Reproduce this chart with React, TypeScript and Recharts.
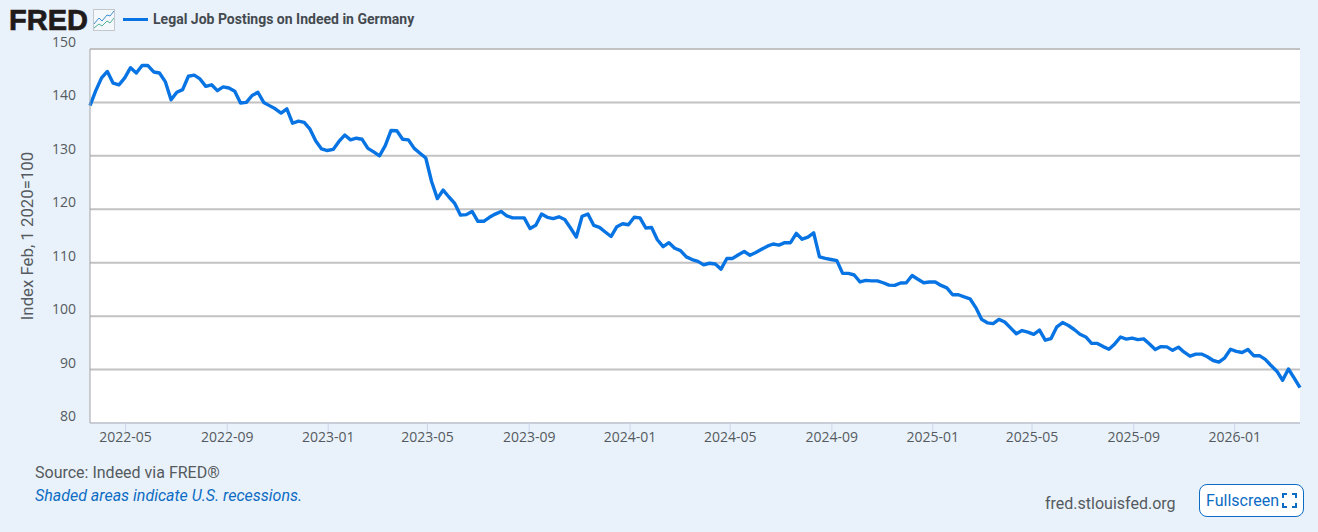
import { LineChart, Line, XAxis, YAxis, CartesianGrid } from 'recharts'

const DAY = 86400000
const startDate = Date.UTC(2022, 2, 19)

// weekly readings, first one is 2022-03-19
const values = [
  139.4, 142.2, 144.6, 145.8, 143.6, 143.3, 144.6, 146.5, 145.5, 146.9,
  146.9, 145.7, 145.5, 143.9, 140.5, 141.9, 142.4, 144.9, 145.1, 144.4,
  143.0, 143.3, 142.2, 142.9, 142.7, 142.1, 139.9, 140.0, 141.3, 141.9,
  140.0, 139.4, 138.8, 138.0, 138.8, 136.1, 136.5, 136.25, 135.0, 132.8,
  131.3, 131.0, 131.2, 132.7, 133.9, 133.0, 133.3, 133.1, 131.4, 130.75,
  130.0, 131.9, 134.75, 134.7, 133.1, 133.0, 131.4, 130.5, 129.6, 125.2,
  122.0, 123.6, 122.3, 121.1, 118.9, 119.0, 119.6, 117.75, 117.75, 118.5,
  119.1, 119.6, 118.75, 118.4, 118.4, 118.4, 116.4, 117.0, 119.1, 118.5,
  118.25, 118.6, 118.1, 116.5, 114.8, 118.7, 119.1, 117.0, 116.6, 115.75,
  114.9, 116.75, 117.3, 117.1, 118.5, 118.4, 116.5, 116.6, 114.3, 113.0,
  113.75, 112.7, 112.25, 111.1, 110.6, 110.25, 109.6, 109.9, 109.75, 108.8,
  110.8, 110.8, 111.5, 112.1, 111.4, 111.9, 112.5, 113.1, 113.5, 113.3,
  113.75, 113.75, 115.5, 114.4, 114.8, 115.6, 111.1, 110.8, 110.6, 110.4,
  108.0, 108.0, 107.7, 106.4, 106.7, 106.6, 106.6, 106.25, 105.8, 105.75,
  106.2, 106.25, 107.6, 106.9, 106.25, 106.4, 106.4, 105.75, 105.3, 104.0,
  104.0, 103.6, 103.25, 101.6, 99.4, 98.75, 98.6, 99.4, 98.9, 97.8,
  96.7, 97.3, 97.0, 96.6, 97.4, 95.5, 95.8, 98.0, 98.8, 98.25,
  97.5, 96.6, 96.1, 94.9, 94.9, 94.3, 93.8, 94.8, 96.1, 95.7,
  95.9, 95.6, 95.75, 94.8, 93.75, 94.3, 94.25, 93.6, 94.2, 93.25,
  92.5, 92.9, 92.9, 92.4, 91.7, 91.4, 92.2, 93.8, 93.4, 93.2,
  93.75, 92.6, 92.6, 91.9, 90.75, 89.7, 88.0, 90.1, 88.4, 86.6,
]

const yTicks = [80, 90, 100, 110, 120, 130, 140, 150]
const xTickLabels = [
  '2022-05', '2022-09', '2023-01', '2023-05', '2023-09', '2024-01', '2024-05',
  '2024-09', '2025-01', '2025-05', '2025-09', '2026-01',
]

const data = values.map((v, i) => ({ date: startDate + i * 7 * DAY, value: v }))
const xTicks = xTickLabels.map((s) => Date.UTC(+s.slice(0, 4), +s.slice(5) - 1, 1))

const fmtMonth = (t: number) => {
  const d = new Date(t)
  return d.getUTCFullYear() + '-' + String(d.getUTCMonth() + 1).padStart(2, '0')
}

const textColor = '#555a60'
const blue = '#0874e3'

function YTick({ x, y, payload }: any) {
  return (
    <text x={x} y={y - 2} textAnchor="end" fontFamily="Open Sans" fontSize={14} fill={textColor}>
      {payload.value}
    </text>
  )
}

export default function App() {
  return (
    <div style={{ position: 'absolute', left: 0, top: 0, width: 1318, height: 532, background: '#e9f2fa', overflow: 'hidden' }}>
      <LineChart width={1318} height={532} data={data} margin={{ top: 49, right: 18, bottom: 79, left: 0 }}>
        <CartesianGrid vertical={false} stroke="#c2c2c2" strokeWidth={2} fill="#fff" />
        <XAxis
          dataKey="date"
          type="number"
          domain={[startDate, startDate + 209 * 7 * DAY]}
          ticks={xTicks}
          tickFormatter={fmtMonth}
          height={30}
          stroke="#ccd6eb"
          tickSize={10}
          tickMargin={-1}
          interval={0}
          tick={{ fill: textColor, fontSize: 14, fontFamily: 'Open Sans' }}
        />
        <YAxis
          domain={[80, 150]}
          ticks={yTicks}
          width={90}
          stroke="#a3a3a3"
          tickLine={false}
          tickMargin={8}
          interval={0}
          tick={<YTick />}
          label={{
            value: 'Index Feb, 1 2020=100',
            angle: -90,
            position: 'insideLeft',
            offset: 27,
            style: { textAnchor: 'middle', fill: textColor, fontSize: 16.8, fontFamily: 'Roboto' },
          }}
        />
        <Line dataKey="value" stroke={blue} strokeWidth={3.4} dot={false} isAnimationActive={false} strokeLinejoin="round" />
      </LineChart>

      {/* header */}
      <div style={{ position: 'absolute', left: 9, top: 9, fontFamily: 'Liberation Sans', fontWeight: 700, fontSize: 29, lineHeight: '23px', color: '#1f1b1a', WebkitTextStroke: '0.7px #1f1b1a' }}>
        FRED
      </div>
      <svg style={{ position: 'absolute', left: 93, top: 9 }} width={23} height={23}>
        <rect x={0.5} y={0.5} width={21} height={21} fill="#f4f8fb" stroke="#c4c8cc" />
        <polyline points="1,15 6,9 9,12 14,6 17,7 21,2" fill="none" stroke="#3b8fd6" strokeWidth={1} />
        <polyline points="1,19 6,15 9,17 14,12 17,14 21,9" fill="none" stroke="#4fb39a" strokeWidth={1} />
      </svg>
      <div style={{ position: 'absolute', left: 123, top: 18, width: 25, height: 3, background: blue }} />
      <div style={{ position: 'absolute', left: 153, top: 11, fontFamily: 'Roboto', fontWeight: 700, fontSize: 14, lineHeight: '16px', color: '#444a50', whiteSpace: 'nowrap' }}>
        Legal Job Postings on Indeed in Germany
      </div>

      {/* footer */}
      <div style={{ position: 'absolute', left: 35, top: 463, fontFamily: 'Roboto', fontSize: 16, lineHeight: '19px', color: textColor, whiteSpace: 'nowrap' }}>
        Source: Indeed via FRED®
      </div>
      <div style={{ position: 'absolute', left: 35, top: 486, fontFamily: 'Roboto', fontStyle: 'italic', fontSize: 16, lineHeight: '19px', color: '#0c6cc4', whiteSpace: 'nowrap' }}>
        Shaded areas indicate U.S. recessions.
      </div>
      <div style={{ position: 'absolute', left: 1045, top: 494, fontFamily: 'Roboto', fontSize: 16, lineHeight: '19px', color: textColor, whiteSpace: 'nowrap' }}>
        fred.stlouisfed.org
      </div>
      <div style={{ position: 'absolute', left: 1199, top: 484, width: 103, height: 31, border: '1px solid #0c6cc4', borderRadius: 8, background: '#fff' }} />
      <div style={{ position: 'absolute', left: 1206, top: 491, fontFamily: 'Roboto', fontSize: 16, lineHeight: '19px', color: '#0c6cc4', whiteSpace: 'nowrap' }}>
        Fullscreen
      </div>
      <svg style={{ position: 'absolute', left: 1282, top: 493 }} width={15} height={15}>
        <path d="M1 5V1H5M10 1H14V5M14 10V14H10M5 14H1V10" fill="none" stroke="#0c6cc4" strokeWidth={2} />
      </svg>
    </div>
  )
}
